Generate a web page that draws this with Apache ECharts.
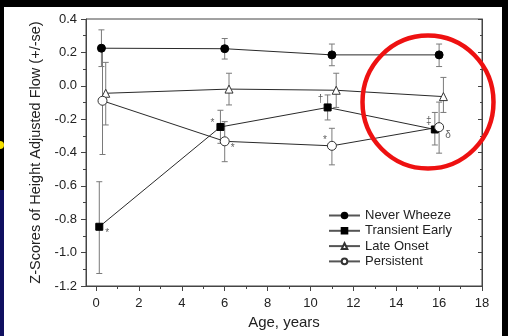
<!DOCTYPE html>
<html>
<head>
<meta charset="utf-8">
<script src="https://cdn.jsdelivr.net/npm/echarts@6/dist/echarts.min.js"></script>
<style>
html,body{margin:0;padding:0;background:#000;}
#chart{width:508px;height:336px;}
</style>
</head>
<body>
<div id="chart"></div>
<script>
// ---- data ----
const seriesNames = ['Never Wheeze', 'Transient Early', 'Late Onset', 'Persistent'];
const xTickLabels = [0, 2, 4, 6, 8, 10, 12, 14, 16, 18];
const xMinorTicks = [1, 3, 5, 7, 9, 11, 13, 15, 17];

const neverAge  = [0.25, 6.0, 11.0, 16.0];
const neverZ    = [0.225, 0.222, 0.185, 0.185];
const neverLo   = [0.115, 0.16, 0.12, 0.115];
const neverHi   = [0.335, 0.283, 0.25, 0.25];

const transAge  = [0.15, 5.8, 10.8, 15.8];
const transZ    = [-0.845, -0.247, -0.13, -0.262];
const transLo   = [-1.125, -0.345, -0.205, -0.355];
const transHi   = [-0.575, -0.147, -0.055, -0.16];
const transMark = ['*', '*', '\u2020', '\u2021'];

const lateAge   = [0.45, 6.2, 11.2, 16.2];
const lateZ     = [-0.045, -0.02, -0.027, -0.065];
const lateLo    = [-0.235, -0.115, -0.13, -0.16];
const lateHi    = [0.14, 0.075, 0.075, 0.05];

const persAge   = [0.3, 6.0, 11.0, 16.0];
const persZ     = [-0.09, -0.333, -0.36, -0.248];
const persLo    = [-0.412, -0.455, -0.474, -0.404];
const persHi    = [0.23, -0.215, -0.255, -0.098];
const persMark  = ['', '*', '*', '\u03b4'];

// ---- styles ----
const transMarkOffset = [[8, 6], [-8, -4], [-7, -8], [-6, -8]];
const persMarkOffset  = [[0, 0], [8, 7], [-7, -6], [9, 8]];
const lineColor = '#2a2a2a';
const errColor = '#7a7a7a';
const font = 'Liberation Sans, Arial, sans-serif';

function pairs(xs, ys){ return xs.map((x,i)=>[x, ys[i]]); }
function triples(xs, lo, hi){ return xs.map((x,i)=>[x, lo[i], hi[i]]); }

function errRender(params, api){
  const x = api.value(0), lo = api.value(1), hi = api.value(2);
  const a = api.coord([x, lo]), b = api.coord([x, hi]);
  const w = 3;
  const st = {stroke: errColor, lineWidth: 1};
  return {type:'group', children:[
    {type:'line', shape:{x1:a[0], y1:a[1], x2:b[0], y2:b[1]}, style:st},
    {type:'line', shape:{x1:a[0]-w, y1:a[1], x2:a[0]+w, y2:a[1]}, style:st},
    {type:'line', shape:{x1:b[0]-w, y1:b[1], x2:b[0]+w, y2:b[1]}, style:st}
  ]};
}
function errSeries(xs, lo, hi){
  return {type:'custom', renderItem: errRender, data: triples(xs, lo, hi),
    encode:{x:0, y:[1,2]}, z:1, silent:true};
}
function markSeries(xs, ys, marks, offs){
  const data = [];
  xs.forEach((x,i)=>{
    if (!marks[i]) return;
    data.push({value:[x, ys[i]], label:{show:true, formatter: marks[i], offset: offs[i]}});
  });
  return {type:'scatter', symbolSize:0, data, z:5, silent:true,
    label:{position:'inside', color:'#333', fontSize:10, fontFamily: font}};
}

const chart = echarts.init(document.getElementById('chart'), null, {renderer:'canvas'});
chart.setOption({
  backgroundColor: 'transparent',
  animation: false,
  graphic: {elements: [
    {type:'rect', z:-10, shape:{x:4, y:7, width:498, height:329}, style:{fill:'#fff'}},
    {type:'rect', z:-10, shape:{x:0, y:190, width:4, height:146}, style:{fill:'#101060'}},
    {type:'circle', z:-10, shape:{cx:0, cy:145, r:4}, style:{fill:'#f5e000'}},
    {type:'ellipse', z:100, shape:{cx:428, cy:102, rx:65.5, ry:66.5}, style:{fill:'none', stroke:'#ee1111', lineWidth:4.5}}
  ]},
  grid: {left:86, top:19, right:26, bottom:50, show:true, borderColor:'#444', borderWidth:1, backgroundColor:'transparent'},
  legend: {
    orient:'vertical', left:323, top:204, itemWidth:31, itemHeight:7, itemGap:2.3,
    data: seriesNames,
    lineStyle:{color:'#555'},
    textStyle:{fontSize:13, color:'#222', fontFamily: font, padding:[0,0,0,0]}
  },
  xAxis: [{
    type:'value', min:-0.47, max:18,
    name:'Age, years', nameLocation:'middle', nameGap:29,
    nameTextStyle:{fontSize:15, color:'#222', fontFamily: font},
    axisLine:{show:true, onZero:false, lineStyle:{color:'#444'}},
    axisTick:{show:true, length:5, lineStyle:{color:'#444'}, customValues: xTickLabels},
    axisLabel:{fontSize:13, color:'#222', fontFamily: font, margin:11, customValues: xTickLabels},
    splitLine:{show:false}
  },{
    type:'value', min:-0.47, max:18, position:'bottom', offset:0,
    axisLine:{show:false, onZero:false},
    axisTick:{show:true, length:3, lineStyle:{color:'#444'}, customValues: xMinorTicks},
    axisLabel:{show:false, customValues: xMinorTicks},
    splitLine:{show:false}
  }],
  yAxis: [{
    type:'value', min:-1.2, max:0.4, interval:0.2,
    name:'Z-Scores of Height Adjusted Flow (+/-se)', nameLocation:'middle', nameGap:43,
    nameTextStyle:{fontSize:14.5, color:'#222', fontFamily: font},
    axisLine:{show:true, onZero:false, lineStyle:{color:'#444'}},
    axisTick:{show:true, length:5, lineStyle:{color:'#444'}},
    minorTick:{show:true, splitNumber:2, length:3, lineStyle:{color:'#444'}},
    axisLabel:{fontSize:13, color:'#222', fontFamily: font, margin:9,
      formatter: v => v.toFixed(1)},
    splitLine:{show:false}
  },{
    type:'value', min:-1.2, max:0.4, interval:0.2, position:'right',
    axisLine:{show:true, onZero:false, lineStyle:{color:'#444'}},
    axisTick:{show:true, inside:true, length:4, lineStyle:{color:'#444'}},
    minorTick:{show:true, splitNumber:2, length:2, lineStyle:{color:'#444'}},
    axisLabel:{show:false},
    splitLine:{show:false}
  }],
  series: [
    errSeries(neverAge, neverLo, neverHi),
    errSeries(transAge, transLo, transHi),
    errSeries(lateAge, lateLo, lateHi),
    errSeries(persAge, persLo, persHi),
    {name:seriesNames[0], type:'line', data:pairs(neverAge, neverZ), symbol:'circle', symbolSize:8,
      lineStyle:{color:lineColor, width:1}, itemStyle:{color:'#000', borderColor:'#000', borderWidth:1}, z:3},
    {name:seriesNames[1], type:'line', data:pairs(transAge, transZ), symbol:'rect', symbolSize:7,
      lineStyle:{color:lineColor, width:1}, itemStyle:{color:'#000', borderColor:'#000', borderWidth:1}, z:3},
    {name:seriesNames[2], type:'line', data:pairs(lateAge, lateZ), symbol:'triangle', symbolSize:8,
      lineStyle:{color:lineColor, width:1}, itemStyle:{color:'#fff', borderColor:'#333', borderWidth:1}, z:3},
    {name:seriesNames[3], type:'line', data:pairs(persAge, persZ), symbol:'circle', symbolSize:9,
      lineStyle:{color:lineColor, width:1}, itemStyle:{color:'#fff', borderColor:'#333', borderWidth:1}, z:3},
    markSeries(transAge, transZ, transMark, transMarkOffset),
    markSeries(persAge, persZ, persMark, persMarkOffset)
  ]
});
</script>
</body>
</html>
